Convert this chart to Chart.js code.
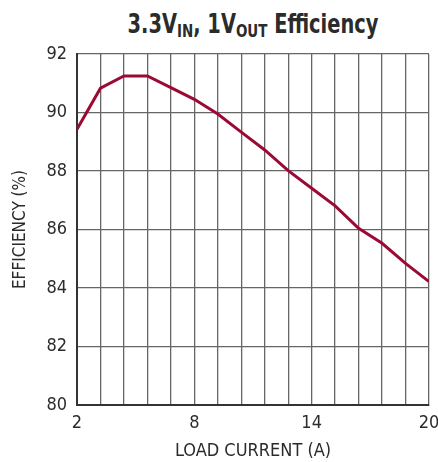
<!DOCTYPE html>
<html>
  <head>
    <title>3.3VIN, 1VOUT Efficiency</title>
    <script src="https://cdn.jsdelivr.net/npm/chart.js@4.4.0/dist/chart.umd.min.js"></script>
    <style>
      html,body{
        width: 100%;
        height: 100%;
        margin: 0;
        padding: 0;
        background: #fff;
      }
      #wrap{
        position: relative;
        width: 438px;
        height: 462px;
      }
      #titulo{
        position: absolute;
        left: 77px;
        width: 352px;
        top: 9px;
        text-align: center;
        font-family: "Liberation Sans Narrow", "DejaVu Sans Condensed", "Liberation Sans", sans-serif;
        font-weight: bold;
        font-size: 26px;
        color: #2b2b2b;
        white-space: nowrap;
        transform: scaleX(0.83);
      }
      #titulo sub{
        font-size: 18px;
        vertical-align: -4px;
        line-height: 0;
      }
      #grafico{
        position: absolute;
        left: 0;
        top: 0;
      }
    </style>
  </head>
  <body>
    <div id="wrap">
      <div id="titulo">3.3V<sub>IN</sub>, 1V<sub>OUT</sub> Efficiency</div>
      <canvas id="grafico" width="438" height="462"></canvas>
    </div>

    <script>
      // corrente de carga (A) e eficiência (%)
      const corrente = [2, 3.2, 4.4, 5.6, 6.8, 8, 9.2, 10.4, 11.6, 12.8, 14, 15.2, 16.4, 17.6, 18.8, 20]
      const eficiencia = [89.43, 90.83, 91.25, 91.25, 90.85, 90.45, 89.95, 89.33, 88.72, 88.01, 87.41, 86.81, 86.04, 85.53, 84.84, 84.22]

      const xMarcas = [2, 8, 14, 20]
      const yMarcas = [80, 82, 84, 86, 88, 90, 92]

      const fonte = '"Liberation Sans Narrow", "DejaVu Sans Condensed", "Liberation Sans", sans-serif'
      const corTexto = '#2b2b2b'

      // área do gráfico fixa
      const AREA = {left: 77, top: 54, right: 429, bottom: 405}

      let pontos = corrente.map((c, i) => ({x: c, y: eficiencia[i]}))

      let ctx = document.getElementById('grafico').getContext('2d')
      let grafico = new Chart(ctx, {
        type: 'line',
        data: {
          datasets: [{
            data: pontos,
            borderColor: '#9b0a35',
            borderWidth: 3,
            pointRadius: 0,
            fill: false,
            tension: 0,
          }]
        },
        options: {
          responsive: false,
          animation: false,
          events: [],
          layout: {
            padding: {top: AREA.top, right: 438 - AREA.right, left: 0, bottom: 0}
          },
          plugins: {
            legend: {display: false},
            tooltip: {enabled: false},
          },
          scales: {
            x: {
              type: 'linear',
              min: 2,
              max: 20,
              afterFit: (s) => { s.height = 462 - AREA.bottom; s.paddingLeft = 0; s.paddingRight = 0 },
              ticks: {
                stepSize: 1.2,
                autoSkip: false,
                maxRotation: 0,
                padding: 8,
                color: corTexto,
                font: {family: fonte, size: 18},
                callback: (v) => xMarcas.some(m => Math.abs(m - v) < 1e-6) ? String(Math.round(v)) : '',
              },
              grid: {color: '#666', lineWidth: 1.3, drawTicks: false},
              border: {color: '#333', width: 2},
              title: {
                display: true,
                text: 'LOAD CURRENT (A)',
                color: corTexto,
                font: {family: fonte, size: 18},
                padding: {top: 2, bottom: 0},
              },
            },
            y: {
              min: 80,
              max: 92,
              afterFit: (s) => { s.width = AREA.left },
              ticks: {
                stepSize: 2,
                padding: 10,
                color: corTexto,
                font: {family: fonte, size: 18},
                callback: (v) => yMarcas.includes(v) ? String(v) : '',
              },
              grid: {color: '#666', lineWidth: 1.3, drawTicks: false},
              border: {color: '#333', width: 2},
              title: {
                display: true,
                text: 'EFFICIENCY (%)',
                color: corTexto,
                font: {family: fonte, size: 17},
                padding: {top: 10, bottom: 4},
              },
            },
          },
        },
      })
    </script>
  </body>
</html>
